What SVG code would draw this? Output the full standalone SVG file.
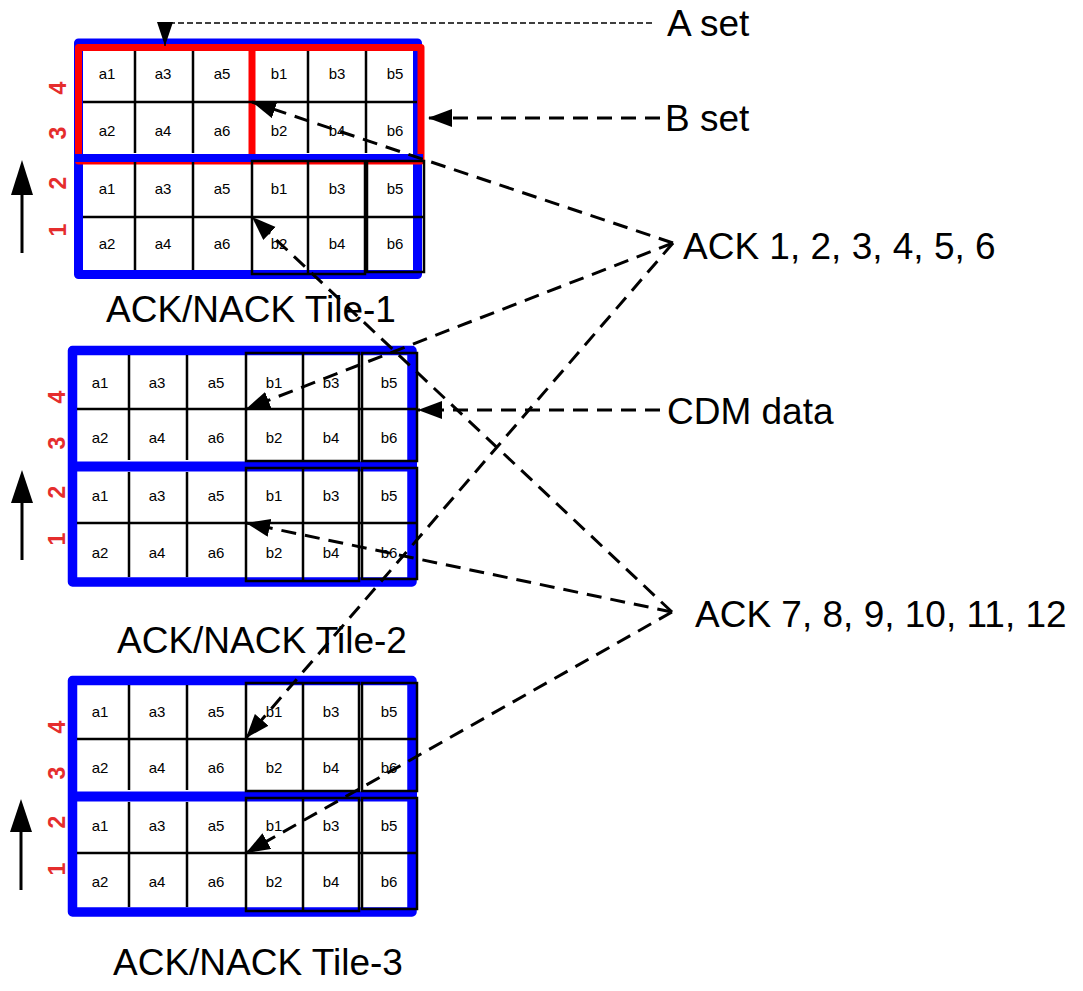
<svg xmlns="http://www.w3.org/2000/svg" width="1083" height="991" viewBox="0 0 1083 991">
<style>
.blue{fill:none;stroke:#0000ff;stroke-linejoin:round;stroke-linecap:round}
.red{fill:none;stroke:#ff0000;stroke-linejoin:round}
.g{stroke:#000;stroke-width:2.5;fill:none}
.bx{stroke:#000;stroke-width:2.5;fill:none}
.c{font-family:"Liberation Sans",Arial,sans-serif;font-size:15px;text-anchor:middle;dominant-baseline:central;fill:#000}
.rn{font-family:"Liberation Sans",Arial,sans-serif;font-size:23px;font-weight:bold;text-anchor:middle;dominant-baseline:central;fill:#e52d2d}
.big{font-family:"Liberation Sans",Arial,sans-serif;font-size:37px;fill:#000}
.dash{stroke:#000;stroke-width:3;stroke-dasharray:15 9;fill:none}
.thin{stroke:#000;stroke-width:1.3;stroke-dasharray:6 3;fill:none}
.up{stroke:#000;stroke-width:3}
</style>
<defs>
<marker id="ah" markerUnits="userSpaceOnUse" markerWidth="26" markerHeight="20" refX="24" refY="9" orient="auto"><path d="M0,0 L24,9 L0,18 z" fill="#000"/></marker>
<marker id="ahs" markerUnits="userSpaceOnUse" markerWidth="26" markerHeight="18" refX="24" refY="8" orient="auto"><path d="M0,0 L24,8 L0,16 z" fill="#000"/></marker>
</defs>
<rect width="1083" height="991" fill="#fff"/>

<g id="tile1">
<rect class="blue" x="78.5" y="43" width="339" height="231.5" stroke-width="9"/>
<rect class="red" x="78.5" y="47.5" width="342.5" height="113.5" stroke-width="7"/>
<line x1="252" y1="47.5" x2="252" y2="157" stroke="#ff0000" stroke-width="7"/>
<line x1="74" y1="158" x2="423" y2="158" stroke="#0000ff" stroke-width="8"/>
<path class="g" d="M83,102H417M135,51V153M193,51V153M308,51V153M366,51V153M83,217H424M135,162V270M193,162V270M308,161V274"/>
<rect class="bx" x="252" y="161" width="113" height="113"/>
<rect class="bx" x="367" y="161" width="57" height="111"/>
<g class="c">
<text x="107" y="73">a1</text><text x="163" y="73">a3</text><text x="222" y="73">a5</text><text x="279" y="73">b1</text><text x="337" y="73">b3</text><text x="395" y="73">b5</text>
<text x="107" y="130">a2</text><text x="163" y="130">a4</text><text x="222" y="130">a6</text><text x="279" y="130">b2</text><text x="337" y="130">b4</text><text x="395" y="130">b6</text>
<text x="107" y="188">a1</text><text x="163" y="188">a3</text><text x="222" y="188">a5</text><text x="279" y="188">b1</text><text x="337" y="188">b3</text><text x="395" y="188">b5</text>
<text x="107" y="243">a2</text><text x="163" y="243">a4</text><text x="222" y="243">a6</text><text x="279" y="243">b2</text><text x="337" y="243">b4</text><text x="395" y="243">b6</text>
</g>
<g class="rn">
<text transform="translate(58,88) rotate(-90)">4</text>
<text transform="translate(58,133) rotate(-90)">3</text>
<text transform="translate(58,183) rotate(-90)">2</text>
<text transform="translate(58,230) rotate(-90)">1</text>
</g>
<line class="up" x1="22" y1="253" x2="22" y2="192"/>
<polygon points="22,160 11,195 33,195" fill="#000"/>
<text class="big" x="106" y="322">ACK/NACK Tile-1</text>
</g>

<g id="tile2">
<rect class="blue" x="72.5" y="350.5" width="339.5" height="231.5" stroke-width="9.5"/>
<line x1="68" y1="466.5" x2="417" y2="466.5" stroke="#0000ff" stroke-width="10"/>
<path class="g" d="M77,409H417M129,355V460M187,355V460M303,353V461M77,523H417M129,472V577M187,472V577M303,468V581"/>
<rect class="bx" x="246" y="353" width="113" height="108"/>
<rect class="bx" x="362" y="353" width="55" height="108"/>
<rect class="bx" x="246" y="468" width="113" height="113"/>
<rect class="bx" x="362" y="468" width="55" height="111"/>
<g class="c">
<text x="100" y="382">a1</text><text x="157" y="382">a3</text><text x="216" y="382">a5</text><text x="274" y="382">b1</text><text x="331" y="382">b3</text><text x="389" y="382">b5</text>
<text x="100" y="437">a2</text><text x="157" y="437">a4</text><text x="216" y="437">a6</text><text x="274" y="437">b2</text><text x="331" y="437">b4</text><text x="389" y="437">b6</text>
<text x="100" y="495">a1</text><text x="157" y="495">a3</text><text x="216" y="495">a5</text><text x="274" y="495">b1</text><text x="331" y="495">b3</text><text x="389" y="495">b5</text>
<text x="100" y="552">a2</text><text x="157" y="552">a4</text><text x="216" y="552">a6</text><text x="274" y="552">b2</text><text x="331" y="552">b4</text><text x="389" y="552">b6</text>
</g>
<g class="rn">
<text transform="translate(57,397) rotate(-90)">4</text>
<text transform="translate(57,443) rotate(-90)">3</text>
<text transform="translate(57,492) rotate(-90)">2</text>
<text transform="translate(57,539) rotate(-90)">1</text>
</g>
<line class="up" x1="22" y1="560" x2="22" y2="500"/>
<polygon points="22,470 11,503 33,503" fill="#000"/>
<text class="big" x="117" y="653">ACK/NACK Tile-2</text>
</g>

<g id="tile3">
<rect class="blue" x="72.5" y="680.5" width="339.5" height="231.5" stroke-width="9.5"/>
<line x1="68" y1="796.5" x2="417" y2="796.5" stroke="#0000ff" stroke-width="10"/>
<path class="g" d="M77,739H417M129,685V790M187,685V790M303,683V791M77,853H417M129,802V907M187,802V907M303,798V911"/>
<rect class="bx" x="246" y="683" width="113" height="108"/>
<rect class="bx" x="362" y="683" width="55" height="108"/>
<rect class="bx" x="246" y="798" width="113" height="113"/>
<rect class="bx" x="362" y="798" width="55" height="111"/>
<g class="c">
<text x="100" y="711">a1</text><text x="157" y="711">a3</text><text x="216" y="711">a5</text><text x="274" y="711">b1</text><text x="331" y="711">b3</text><text x="389" y="711">b5</text>
<text x="100" y="767">a2</text><text x="157" y="767">a4</text><text x="216" y="767">a6</text><text x="274" y="767">b2</text><text x="331" y="767">b4</text><text x="389" y="767">b6</text>
<text x="100" y="825">a1</text><text x="157" y="825">a3</text><text x="216" y="825">a5</text><text x="274" y="825">b1</text><text x="331" y="825">b3</text><text x="389" y="825">b5</text>
<text x="100" y="881">a2</text><text x="157" y="881">a4</text><text x="216" y="881">a6</text><text x="274" y="881">b2</text><text x="331" y="881">b4</text><text x="389" y="881">b6</text>
</g>
<g class="rn">
<text transform="translate(57,727) rotate(-90)">4</text>
<text transform="translate(57,773) rotate(-90)">3</text>
<text transform="translate(57,822) rotate(-90)">2</text>
<text transform="translate(57,869) rotate(-90)">1</text>
</g>
<line class="up" x1="21" y1="890" x2="21" y2="830"/>
<polygon points="21,799 10,832 32,832" fill="#000"/>
<text class="big" x="113" y="975">ACK/NACK Tile-3</text>
</g>

<g id="labels">
<text class="big" x="667" y="36">A set</text>
<text class="big" x="665" y="131">B set</text>
<text class="big" x="683" y="259">ACK 1, 2, 3, 4, 5, 6</text>
<text class="big" x="667" y="424">CDM data</text>
<text class="big" x="695" y="627">ACK 7, 8, 9, 10, 11, 12</text>
</g>

<g id="connectors">
<path class="thin" d="M652,23H165V46" marker-end="url(#ahs)"/>
<line class="dash" x1="660" y1="118" x2="428" y2="118" marker-end="url(#ah)"/>
<line class="dash" x1="660" y1="410" x2="418" y2="410" marker-end="url(#ah)"/>
<line class="dash" x1="673" y1="243" x2="252" y2="102" marker-end="url(#ah)"/>
<line class="dash" x1="673" y1="243" x2="246" y2="409" marker-end="url(#ah)"/>
<line class="dash" x1="673" y1="243" x2="246" y2="738" marker-end="url(#ah)"/>
<line class="dash" x1="672" y1="612" x2="252" y2="217" marker-end="url(#ah)"/>
<line class="dash" x1="672" y1="612" x2="246" y2="523" marker-end="url(#ah)"/>
<line class="dash" x1="672" y1="612" x2="246" y2="853" marker-end="url(#ah)"/>
</g>
</svg>
